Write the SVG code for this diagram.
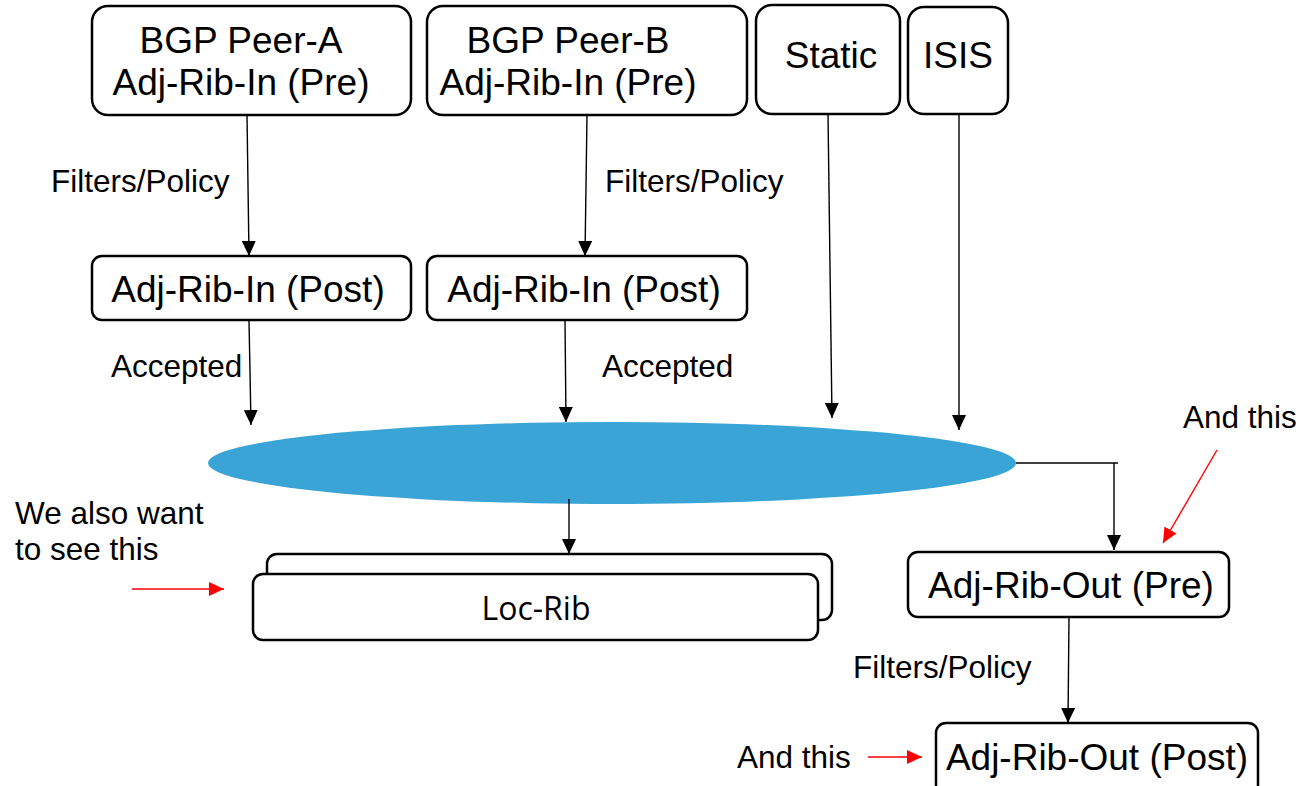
<svg xmlns="http://www.w3.org/2000/svg" width="1303" height="786" viewBox="0 0 1303 786">
<style>
.box{fill:#fff;stroke:#000;stroke-width:2.5}
.t{font-family:"Liberation Sans",Arial,sans-serif;font-size:37px;fill:#000;text-anchor:middle}
.l{font-family:"Liberation Sans",Arial,sans-serif;font-size:31.5px;fill:#000}
.c{fill:none;stroke:#000;stroke-width:1.4}
.r{fill:none;stroke:#f00;stroke-width:1.4}
</style>
<defs>
<marker id="ab" markerUnits="userSpaceOnUse" markerWidth="15" markerHeight="14" refX="15" refY="7" orient="auto"><path d="M0,0 L15,7 L0,14 z" fill="#000"/></marker>
<marker id="ar" markerUnits="userSpaceOnUse" markerWidth="15" markerHeight="14" refX="15" refY="7" orient="auto"><path d="M0,0 L15,7 L0,14 z" fill="#f00"/></marker>
</defs>
<rect width="1303" height="786" fill="#fff"/>
<g id="peerA-pre"><rect class="box" x="92" y="6" width="319" height="109" rx="16"/><text class="t" x="241" y="53">BGP Peer-A</text><text class="t" x="241" y="95">Adj-Rib-In (Pre)</text></g>
<g id="peerB-pre"><rect class="box" x="427" y="6" width="320" height="109" rx="16"/><text class="t" x="568" y="53">BGP Peer-B</text><text class="t" x="568" y="95">Adj-Rib-In (Pre)</text></g>
<g id="static"><rect class="box" x="756" y="5" width="144" height="109" rx="16"/><text class="t" x="831" y="68">Static</text></g>
<g id="isis"><rect class="box" x="908" y="7" width="100" height="107" rx="16"/><text class="t" x="958" y="68">ISIS</text></g>
<g id="peerA-post"><rect class="box" x="92" y="256" width="319" height="64" rx="10"/><text class="t" x="248" y="302">Adj-Rib-In (Post)</text></g>
<g id="peerB-post"><rect class="box" x="427" y="256" width="320" height="64" rx="10"/><text class="t" x="584" y="302">Adj-Rib-In (Post)</text></g>
<g id="ellipse"><ellipse cx="612" cy="463" rx="404" ry="41" fill="#3aa4d6"/></g>
<g id="loc-rib"><rect class="box" x="267" y="554" width="565" height="66" rx="10"/><rect class="box" x="253" y="574" width="565" height="66" rx="10"/><text x="536" y="620" font-family="'Open Sans',sans-serif" font-size="32" text-anchor="middle" fill="#000">Loc-Rib</text></g>
<g id="out-pre"><rect class="box" x="908" y="552" width="321" height="65" rx="10"/><text class="t" x="1071" y="598">Adj-Rib-Out (Pre)</text></g>
<g id="out-post"><rect class="box" x="936" y="723" width="322" height="72" rx="10"/><text class="t" x="1097" y="770">Adj-Rib-Out (Post)</text></g>
<g id="connectors">
<line class="c" x1="247" y1="115" x2="249" y2="256" marker-end="url(#ab)"/>
<line class="c" x1="587" y1="115" x2="585" y2="256" marker-end="url(#ab)"/>
<line class="c" x1="249" y1="320" x2="251" y2="425" marker-end="url(#ab)"/>
<line class="c" x1="565" y1="320" x2="566" y2="422" marker-end="url(#ab)"/>
<line class="c" x1="828" y1="114" x2="832" y2="418" marker-end="url(#ab)"/>
<line class="c" x1="959" y1="114" x2="959" y2="430" marker-end="url(#ab)"/>
<line class="c" x1="569" y1="499" x2="569" y2="554" marker-end="url(#ab)"/>
<path class="c" d="M1016,463 H1118 M1114,463 V550" marker-end="url(#ab)"/>
<line class="c" x1="1069" y1="617" x2="1068" y2="723" marker-end="url(#ab)"/>
</g>
<g id="labels">
<text class="l" x="51" y="192">Filters/Policy</text>
<text class="l" x="605" y="192">Filters/Policy</text>
<text class="l" x="111" y="377">Accepted</text>
<text class="l" x="602" y="377">Accepted</text>
<text class="l" x="853" y="678">Filters/Policy</text>
</g>
<g id="annotations">
<text class="l" x="1183" y="428">And this</text>
<text class="l" x="15" y="524">We also want</text>
<text class="l" x="15" y="560">to see this</text>
<text class="l" x="737" y="768">And this</text>
<line class="r" x1="1217" y1="450" x2="1163" y2="543" marker-end="url(#ar)"/>
<line class="r" x1="132" y1="589" x2="224" y2="589" marker-end="url(#ar)"/>
<line class="r" x1="868" y1="757" x2="922" y2="757" marker-end="url(#ar)"/>
</g>
</svg>
